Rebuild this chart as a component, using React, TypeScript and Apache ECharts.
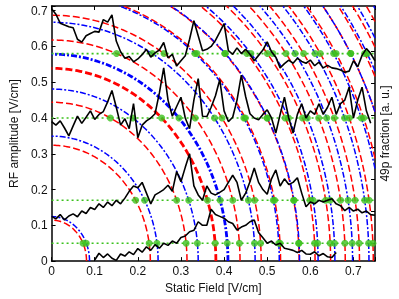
import React, { useEffect, useRef } from 'react';
import * as echarts from 'echarts';

// Axis extents
const X_MAX = 0.75;
const Y_MAX = 0.713;
// Contours are ellipses: y-intercept / x-intercept
const ELLIPSE_RATIO = 1.414;

// x-intercepts of the contours [V/cm]
const RED_RADII = [0.081, 0.229, 0.314, 0.381, 0.437, 0.486, 0.531, 0.574, 0.611, 0.647, 0.681, 0.714, 0.746, 0.777, 0.806, 0.834, 0.861, 0.887];
const BLUE_RADII = [0.088, 0.247, 0.34, 0.409, 0.472, 0.528, 0.575, 0.618, 0.657, 0.698, 0.736, 0.772, 0.806, 0.839, 0.87, 0.901];
const THICK_RED = [0.381];
const THICK_BLUE = [0.409];

// green dotted levels (RF amplitude)
const GREEN_LEVELS = [0.05, 0.17, 0.4, 0.58];

// right axis tick positions (arbitrary units)
const RIGHT_TICKS = [0.57, 1.57, 2.57, 3.57, 4.57, 5.57, 6.57, 7.57];

// Trace sampling (static field, V/cm)
const TRACE_X = [
  0, 0.01, 0.02, 0.03, 0.04, 0.05, 0.06, 0.07, 0.08, 0.09,
  0.1, 0.11, 0.12, 0.13, 0.14, 0.15, 0.16, 0.17, 0.18, 0.19,
  0.2, 0.21, 0.22, 0.23, 0.24, 0.25, 0.26, 0.27, 0.28, 0.29,
  0.3, 0.31, 0.32, 0.33, 0.34, 0.35, 0.36, 0.37, 0.38, 0.39,
  0.4, 0.41, 0.42, 0.43, 0.44, 0.45, 0.46, 0.47, 0.48, 0.49,
  0.5, 0.51, 0.52, 0.53, 0.54, 0.55, 0.56, 0.57, 0.58, 0.59,
  0.6, 0.61, 0.62, 0.63, 0.64, 0.65, 0.66, 0.67, 0.68, 0.69,
  0.7, 0.71, 0.72, 0.73, 0.74, 0.75,
];

const TRACE_A = [
  0.705, 0.69, 0.665, 0.66, 0.655, 0.652, 0.62, 0.612, 0.63, 0.636,
  0.642, 0.64, 0.675, 0.668, 0.688, 0.615, 0.585, 0.567, 0.572, 0.557,
  0.565, 0.577, 0.592, 0.57, 0.582, 0.59, 0.611, 0.568, 0.578, 0.545,
  0.56, 0.574, 0.62, 0.672, 0.63, 0.588, 0.592, 0.6, 0.617, 0.64,
  0.664, 0.588, 0.578, 0.596, 0.58, 0.592, 0.578, 0.56, 0.575, 0.59,
  0.613, 0.585, 0.57, 0.54, 0.552, 0.562, 0.553, 0.567, 0.558, 0.553,
  0.562, 0.546, 0.556, 0.54, 0.547, 0.54, 0.538, 0.534, 0.528, 0.531,
  0.56, 0.543, 0.575, 0.594, 0.58, 0.56,
];

const TRACE_B = [
  0.39, 0.38, 0.392, 0.372, 0.35, 0.378, 0.405, 0.385, 0.402, 0.42,
  0.396, 0.41, 0.418, 0.445, 0.477, 0.43, 0.38, 0.398, 0.37, 0.44,
  0.345, 0.38, 0.392, 0.4, 0.412, 0.47, 0.54, 0.45, 0.405, 0.432,
  0.458, 0.4, 0.37, 0.45, 0.51, 0.405, 0.404, 0.43, 0.462, 0.507,
  0.42, 0.39, 0.402, 0.45, 0.52, 0.46, 0.412, 0.4, 0.395, 0.41,
  0.423, 0.4, 0.358, 0.41, 0.458, 0.4, 0.358, 0.41, 0.44, 0.4,
  0.42, 0.41, 0.44, 0.41, 0.43, 0.458, 0.41, 0.44, 0.45, 0.486,
  0.4, 0.45, 0.486, 0.42, 0.385, null,
];

const TRACE_C = [
  0.125, 0.118, 0.13, 0.115, 0.126, 0.132, 0.124, 0.14, 0.133, 0.15,
  0.144, 0.16, 0.15, 0.165, 0.155, 0.17, 0.16, 0.176, 0.195, 0.21,
  0.205, 0.22, 0.19, 0.16, 0.185, 0.192, 0.2, 0.212, 0.195, 0.25,
  0.222, 0.262, 0.3, 0.21, 0.185, 0.17, 0.21, 0.19, 0.185, 0.192,
  0.2, 0.22, 0.24, 0.22, 0.17, 0.19, 0.222, 0.26, 0.22, 0.2,
  0.187, 0.23, 0.255, 0.21, 0.23, 0.214, 0.22, 0.233, 0.19, 0.152,
  0.165, 0.16, 0.17, 0.165, 0.17, 0.174, 0.16, 0.155, 0.141, 0.15,
  0.14, 0.145, 0.135, 0.14, 0.13, 0.128,
];

const TRACE_D = [
  null, null, null, null, null, null, null, null, null, null,
  0.003, 0.022, 0.01, 0.02, 0.008, 0.002, 0.02, 0.014, 0.026, 0.018,
  0.035, 0.025, 0.04, 0.03, 0.046, 0.036, 0.05, 0.044, 0.056, 0.05,
  0.066, 0.07, 0.082, 0.086, 0.11, 0.1, 0.1, 0.145, 0.13, 0.125,
  0.12, 0.11, 0.105, 0.087, 0.095, 0.1, 0.11, 0.115, 0.08, 0.065,
  0.05, 0.056, 0.045, 0.05, 0.036, 0.033, 0.03, 0.024, 0.03, 0.02,
  0.019, 0.026, 0.015, 0.021, 0.012, 0.01, 0.024, null, null, null,
  null, null, null, null, null, null,
];

const FONT = 'Liberation Sans, Arial, Helvetica, sans-serif';
const RED = '#ff0000';
const BLUE = '#0000ff';
const GREEN = '#3cc21e';

function tenthsLabel(v: number): string {
  const t = v * 10;
  if (Math.abs(t - Math.round(t)) > 1e-6) return '';
  const r = Math.round(t) / 10;
  return r === 0 ? '0' : String(r);
}

function makeArcRenderer(color: string, dash: number[]) {
  return (params: any, api: any) => {
    const r = api.value(0);
    const w = api.value(1);
    const ry = r * ELLIPSE_RATIO;
    const t0 = r > X_MAX ? Math.acos(X_MAX / r) : 0;
    const t1 = ry > Y_MAX ? Math.asin(Y_MAX / ry) : Math.PI / 2;
    if (t1 <= t0) return null;
    const pts: number[][] = [];
    const N = 90;
    for (let i = 0; i <= N; i++) {
      const t = t0 + ((t1 - t0) * i) / N;
      pts.push(api.coord([r * Math.cos(t), ry * Math.sin(t)]));
    }
    return {
      type: 'polyline',
      shape: { points: pts },
      style: { stroke: color, lineWidth: w, lineDash: dash, fill: null },
    };
  };
}

function intersections(): number[][] {
  const out: number[][] = [];
  const all = RED_RADII.concat(BLUE_RADII);
  for (const y of GREEN_LEVELS) {
    for (const r of all) {
      const yy = y / ELLIPSE_RATIO;
      if (r <= yy) continue;
      const x = Math.sqrt(r * r - yy * yy);
      if (x <= X_MAX) out.push([x, y]);
    }
  }
  return out;
}

export default function App() {
  const ref = useRef<HTMLDivElement>(null);
  useEffect(() => {
    if (!ref.current) return;
    const chart = echarts.init(ref.current, undefined, { renderer: 'svg' });
    const traceSeries = [TRACE_A, TRACE_B, TRACE_C, TRACE_D].map((ys, i) => ({
      type: 'line',
      name: 'trace' + i,
      data: TRACE_X.map((x, j) => [x, ys[j]]),
      showSymbol: false,
      connectNulls: false,
      lineStyle: { color: '#000', width: 1.6 },
      z: 5,
    }));
    const greenSeries = GREEN_LEVELS.map((y) => ({
      type: 'line',
      data: [[0, y], [X_MAX, y]],
      showSymbol: false,
      lineStyle: { color: GREEN, width: 1.6, type: [2, 3] },
      z: 3,
    }));
    const axisCommon = {
      axisLine: { show: true, onZero: false, lineStyle: { color: '#000', width: 1.5 } },
      axisTick: { show: true, inside: true, length: 4, lineStyle: { color: '#000', width: 1 } },
      splitLine: { show: false },
    };
    const option: any = {
      animation: false,
      textStyle: { fontFamily: FONT },
      grid: { left: 35, right: 21, top: 6, bottom: 30, containLabel: false },
      xAxis: [
        {
          type: 'value', position: 'bottom', min: 0, max: X_MAX, interval: 0.1,
          ...axisCommon,
          axisLabel: { formatter: tenthsLabel, fontSize: 12, color: '#111', margin: 4, fontFamily: FONT },
          name: 'Static Field [V/cm]', nameLocation: 'middle', nameGap: 14,
          nameTextStyle: { fontSize: 12, color: '#111', fontFamily: FONT },
        },
        {
          type: 'value', position: 'top', min: 0, max: X_MAX, interval: 0.1,
          ...axisCommon,
          axisLabel: { show: false },
        },
      ],
      yAxis: [
        {
          type: 'value', position: 'left', min: 0, max: Y_MAX, interval: 0.1,
          ...axisCommon,
          axisLabel: { formatter: tenthsLabel, fontSize: 12, color: '#111', margin: 4, fontFamily: FONT },
          name: 'RF amplitude [V/cm]', nameLocation: 'middle', nameGap: 21,
          nameTextStyle: { fontSize: 12, color: '#111', fontFamily: FONT },
        },
        {
          type: 'value', position: 'right', min: 0, max: 8,
          axisLine: { show: true, onZero: false, lineStyle: { color: '#000', width: 1.5 } },
          axisTick: { show: true, inside: true, length: 4, customValues: RIGHT_TICKS, lineStyle: { color: '#000', width: 1 } },
          axisLabel: { show: false },
          splitLine: { show: false },
          name: '49p fraction [a. u.]', nameLocation: 'middle', nameGap: 4, nameRotate: 90,
          nameTextStyle: { fontSize: 12, color: '#111', fontFamily: FONT },
        },
      ],
      series: [
        {
          type: 'custom',
          renderItem: makeArcRenderer(RED, [7, 3]),
          data: RED_RADII.map((r) => [r, THICK_RED.includes(r) ? 2.8 : 1.5]),
          z: 1,
          silent: true,
        },
        {
          type: 'custom',
          renderItem: makeArcRenderer(BLUE, [6, 2, 2, 2]),
          data: BLUE_RADII.map((r) => [r, THICK_BLUE.includes(r) ? 2.8 : 1.5]),
          z: 2,
          silent: true,
        },
        ...greenSeries,
        {
          type: 'scatter',
          data: intersections(),
          symbol: 'circle',
          symbolSize: 7,
          itemStyle: { color: GREEN },
          z: 4,
        },
        ...traceSeries,
      ],
    };
    chart.setOption(option);
    return () => chart.dispose();
  }, []);
  return <div ref={ref} style={{ position: 'fixed', left: 0, top: 0, width: 399, height: 299 }} />;
}
